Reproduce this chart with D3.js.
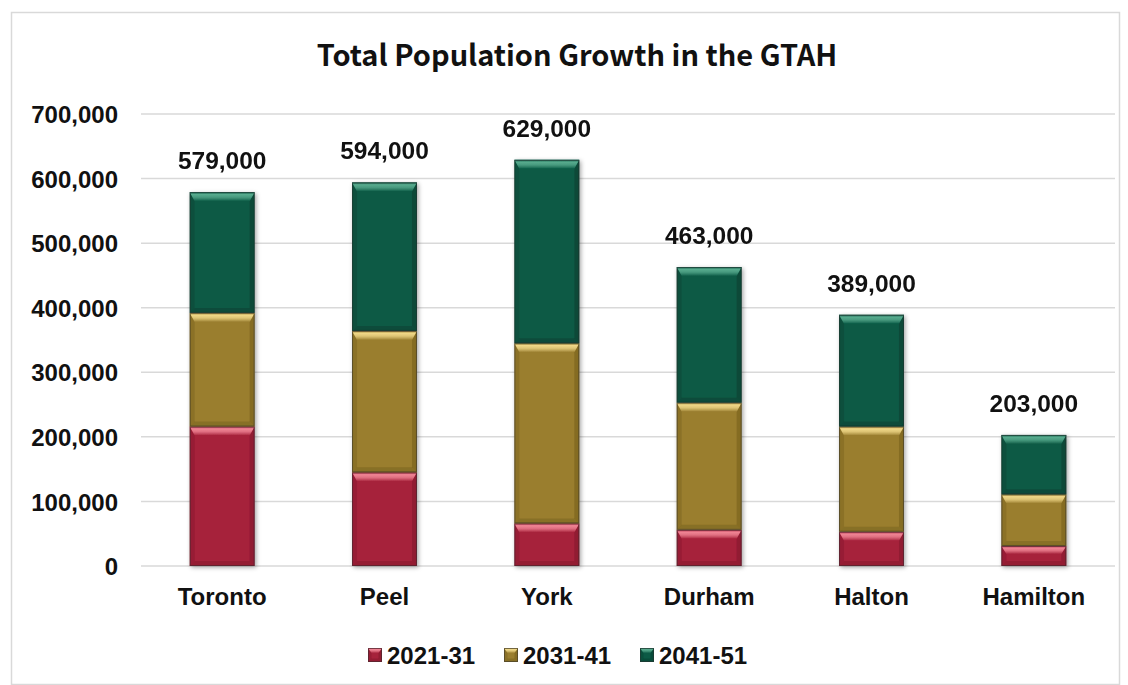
<!DOCTYPE html>
<html>
<head>
<meta charset="utf-8">
<script src="https://cdn.jsdelivr.net/npm/d3@7/dist/d3.min.js"></script>
<style>
  html, body { margin: 0; padding: 0; background: #fff; }
  svg { display: block; }
</style>
</head>
<body>
<svg id="chart" width="1128" height="685"></svg>
<script>
// Regions of the GTAH and growth per decade
const regions = ["Toronto", "Peel", "York", "Durham", "Halton", "Hamilton"];
const periods = ["2021-31", "2031-41", "2041-51"];
const growth2021 = [216000, 145000, 66000, 56000, 53000, 31000];
const growth2031 = [176000, 219000, 279000, 197000, 163000, 80000];
const growth2041 = [187000, 230000, 284000, 210000, 173000, 92000];
const totalLabels = ["579,000", "594,000", "629,000", "463,000", "389,000", "203,000"];
const yTicks = [0, 100000, 200000, 300000, 400000, 500000, 600000, 700000];

const colors = {
  "2021-31": { id: "red",  base: "#a6223b", light: "#f08595", dark: "#6a1022" },
  "2031-41": { id: "gold", base: "#9a7e2f", light: "#f0d888", dark: "#5e4b12" },
  "2041-51": { id: "green", base: "#0c5a45", light: "#58ab8e", dark: "#032e22" }
};

const rows = regions.map((r, i) => ({
  region: r,
  "2021-31": growth2021[i],
  "2031-41": growth2031[i],
  "2041-51": growth2041[i],
  label: totalLabels[i]
}));

const svg = d3.select("#chart");
const numFont = "'Liberation Sans', Arial, sans-serif";

// Defs: soft shadow around bars, bevel gradients
const defs = svg.append("defs");
const f = defs.append("filter").attr("id", "shadow")
  .attr("x", "-20%").attr("y", "-20%").attr("width", "140%").attr("height", "140%");
f.append("feDropShadow").attr("dx", 1.5).attr("dy", 1.5).attr("stdDeviation", 2)
  .attr("flood-color", "#000").attr("flood-opacity", 0.35);

Object.values(colors).forEach(c => {
  const gt = defs.append("linearGradient").attr("id", "top-" + c.id)
    .attr("x1", 0).attr("y1", 0).attr("x2", 0).attr("y2", 1);
  gt.append("stop").attr("offset", 0).attr("stop-color", c.base);
  gt.append("stop").attr("offset", 0.25).attr("stop-color", c.light);
  gt.append("stop").attr("offset", 0.55).attr("stop-color", c.light).attr("stop-opacity", 0.8);
  gt.append("stop").attr("offset", 1).attr("stop-color", c.base);
});

// Outer frame
svg.append("rect").attr("x", 11.5).attr("y", 12.5).attr("width", 1108).attr("height", 672)
  .attr("fill", "#fff").attr("stroke", "#d9d9d9").attr("stroke-width", 1.5);

// Title
svg.append("text").attr("x", 577).attr("y", 66).attr("text-anchor", "middle")
  .attr("font-family", "'Noto Sans CJK JP', 'Noto Sans', sans-serif")
  .attr("font-weight", "bold").attr("font-size", 29).attr("fill", "#111")
  .text("Total Population Growth in the GTAH");

const x = d3.scaleBand().domain(regions).range([141, 1115])
  .paddingInner(0.6).paddingOuter(0.3);
const y = d3.scaleLinear().domain([0, 700000]).range([566, 114]);

// Gridlines
svg.append("g").selectAll("line").data(yTicks).join("line")
  .attr("x1", 141).attr("x2", 1115)
  .attr("y1", d => y(d)).attr("y2", d => y(d))
  .attr("stroke", "#d9d9d9").attr("stroke-width", 1.5);

// Y axis labels
const yAxis = d3.axisLeft(y).tickValues(yTicks).tickSize(0).tickPadding(0)
  .tickFormat(d3.format(","));
const yg = svg.append("g").attr("transform", "translate(118,0)").call(yAxis);
yg.select(".domain").remove();
yg.selectAll("text").attr("font-family", numFont).attr("font-weight", "bold")
  .attr("font-size", 24).attr("fill", "#111").attr("dy", "0.36em");

// X axis labels
const xAxis = d3.axisBottom(x).tickSize(0).tickPadding(0);
const xg = svg.append("g").attr("transform", "translate(0,588)").call(xAxis);
xg.select(".domain").remove();
xg.selectAll("text").attr("font-family", numFont).attr("font-weight", "bold")
  .attr("font-size", 24).attr("fill", "#111").attr("dy", "0.7em");

// Stacked bars
const stack = d3.stack().keys(periods);
const series = stack(rows);

// Draws one bevelled block
function bevelBlock(g, x0, y0, w, h, c, depthTop) {
  const b = Math.min(depthTop, h / 2.5);
  const s = Math.min(5, w / 4, h / 3);
  g.append("rect").attr("x", x0).attr("y", y0).attr("width", w).attr("height", h)
    .attr("fill", c.base);
  // left edge
  g.append("polygon")
    .attr("points", [[x0, y0], [x0 + s, y0 + b], [x0 + s, y0 + h - s], [x0, y0 + h]].join(" "))
    .attr("fill", c.dark).attr("opacity", 0.25);
  // right edge
  g.append("polygon")
    .attr("points", [[x0 + w, y0], [x0 + w - s, y0 + b], [x0 + w - s, y0 + h - s], [x0 + w, y0 + h]].join(" "))
    .attr("fill", c.dark).attr("opacity", 0.35);
  // bottom edge
  g.append("polygon")
    .attr("points", [[x0, y0 + h], [x0 + s, y0 + h - s], [x0 + w - s, y0 + h - s], [x0 + w, y0 + h]].join(" "))
    .attr("fill", c.dark).attr("opacity", 0.3);
  // top highlight
  g.append("polygon")
    .attr("points", [[x0, y0], [x0 + w, y0], [x0 + w - s, y0 + b], [x0 + s, y0 + b]].join(" "))
    .attr("fill", `url(#top-${c.id})`);
  g.append("rect").attr("x", x0 + 0.5).attr("y", y0 + 0.5).attr("width", w - 1).attr("height", h - 1)
    .attr("fill", "none").attr("stroke", "#2b2b2b").attr("stroke-opacity", 0.5).attr("stroke-width", 1);
}

const barsG = svg.append("g").attr("filter", "url(#shadow)");
series.forEach(sr => {
  const c = colors[sr.key];
  sr.forEach(d => {
    const x0 = x(d.data.region);
    const y0 = y(d[1]);
    const h = y(d[0]) - y(d[1]);
    bevelBlock(barsG.append("g"), x0, y0, x.bandwidth(), h, c, 9);
  });
});

// Total labels above bars
svg.append("g").selectAll("text").data(rows).join("text")
  .attr("x", d => x(d.region) + x.bandwidth() / 2)
  .attr("y", d => y(d["2021-31"] + d["2031-41"] + d["2041-51"]) - 23)
  .attr("text-anchor", "middle")
  .attr("font-family", numFont).attr("font-weight", "bold")
  .attr("font-size", 24.5).attr("fill", "#111")
  .text(d => d.label);

// Legend
const legendX = [368, 504, 640];
const lg = svg.append("g");
periods.forEach((p, i) => {
  const g = lg.append("g").attr("transform", `translate(${legendX[i]},648)`);
  bevelBlock(g, 0, 0, 14, 14, colors[p], 5);
  g.append("text").attr("x", 19).attr("y", 7).attr("dy", "0.36em")
    .attr("font-family", numFont).attr("font-weight", "bold")
    .attr("font-size", 24).attr("fill", "#111").text(p);
});
</script>
</body>
</html>
